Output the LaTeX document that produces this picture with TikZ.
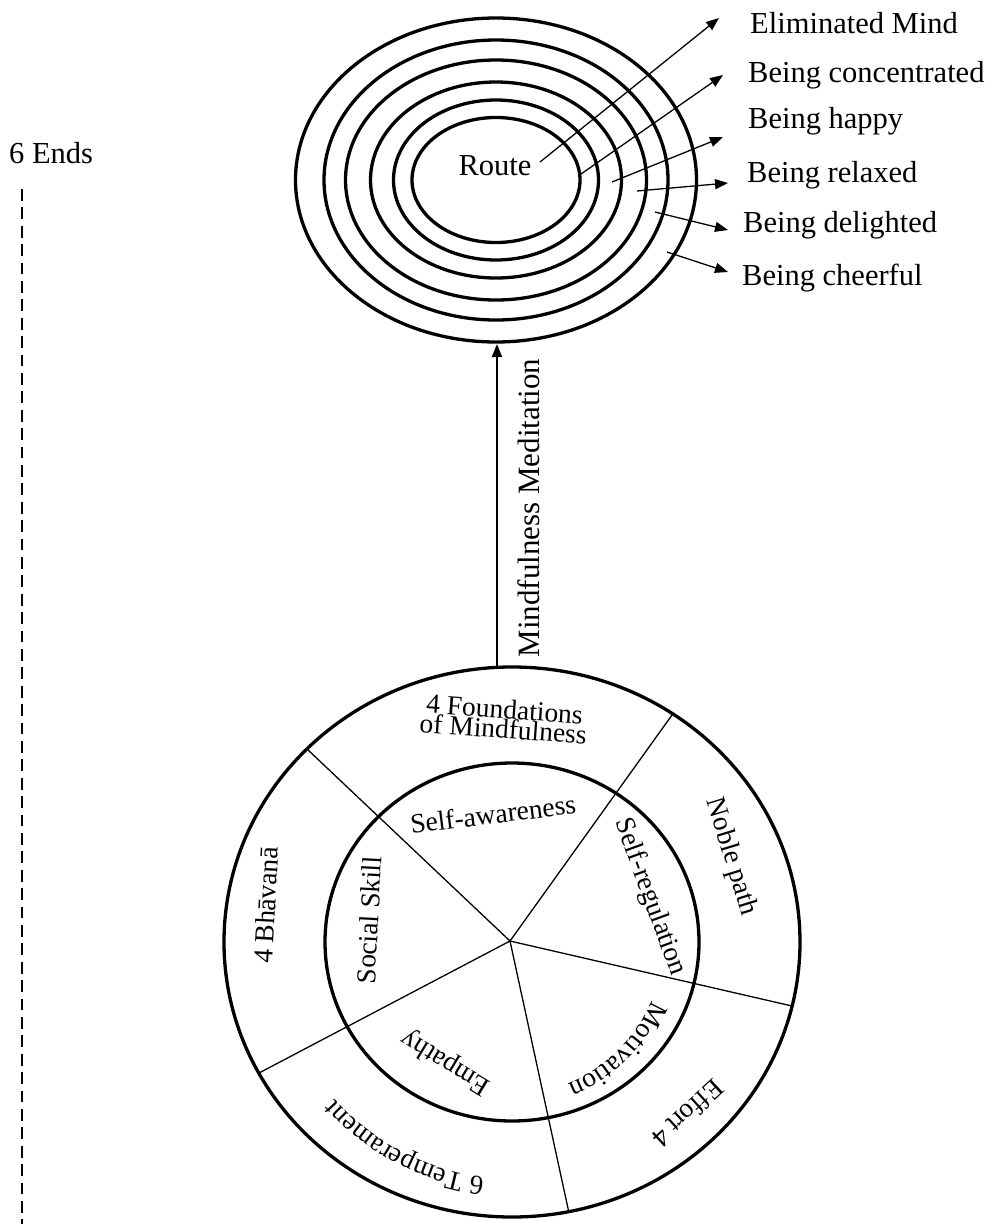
\documentclass[tikz,border=0pt]{standalone}
\usepackage{fontspec}
\setmainfont{Liberation Serif}
\usetikzlibrary{arrows.meta,decorations.text}
\begin{document}
\begin{tikzpicture}[x=1pt,y=1pt,
  ring/.style={line width=3.3pt},
  spoke/.style={line width=1.3pt},
  arr/.style={line width=1.3pt,-{Triangle[length=13pt,width=10pt]}},
  bigarr/.style={line width=2pt,-{Triangle[length=13pt,width=10pt]}},
  lbl/.style={inner sep=0pt,anchor=base west,font=\fontsize{30.5}{36}\selectfont},
  wl/.style={inner sep=0pt,font=\fontsize{27.5}{20}\selectfont},
  dashline/.style={line width=2.8pt,dash pattern=on 11.7pt off 6.7pt}
]
\useasboundingbox (0,0) rectangle (994,-1224);

% left label and dashed line
\node[lbl] (ends) at (9,-163) {6 Ends};
\coordinate (dtop) at (22,-189);
\coordinate (dbot) at (22,-1224);
\draw[dashline] (dtop) -- (dbot);

% concentric ellipses
\coordinate (ec) at (496,-180);
\foreach \rx/\ry in {84/62.5,102.5/80,125.5/98,150.5/120,172/140,200.5/162}
  \draw[ring] (ec) ellipse[x radius=\rx, y radius=\ry];
\node[inner sep=0pt,anchor=base,font=\fontsize{30.5}{36}\selectfont] (route) at (495,-175) {Route};

% state labels
\node[lbl] (l1) at (750,-33) {Eliminated Mind};
\node[lbl] (l2) at (748,-82) {Being concentrated};
\node[lbl] (l3) at (748,-128) {Being happy};
\node[lbl] (l4) at (747,-182) {Being relaxed};
\node[lbl] (l5) at (743,-232) {Being delighted};
\node[lbl] (l6) at (742,-285) {Being cheerful};

\coordinate (s1) at (540,-162); \coordinate (t1) at (719,-18);
\coordinate (s2) at (581,-174); \coordinate (t2) at (723,-75);
\coordinate (s3) at (612,-182); \coordinate (t3) at (723,-137);
\coordinate (s4) at (637,-191); \coordinate (t4) at (728,-183);
\coordinate (s5) at (655,-212); \coordinate (t5) at (728,-230);
\coordinate (s6) at (667,-252); \coordinate (t6) at (728,-272);
\draw[arr] (s1) -- (t1);
\draw[arr] (s2) -- (t2);
\draw[arr] (s3) -- (t3);
\draw[arr] (s4) -- (t4);
\draw[arr] (s5) -- (t5);
\draw[arr] (s6) -- (t6);

% vertical arrow
\coordinate (mmB) at (497,-668);
\coordinate (mmT) at (497,-344);
\draw[bigarr] (mmB) -- (mmT);
\node[rotate=90,inner sep=0pt,font=\fontsize{31}{31}\selectfont] (mm) at (529,-508) {Mindfulness Meditation};

% wheel
\coordinate (wc) at (512,-942);
\coordinate (hub) at (510,-941);
\coordinate (p1) at (307,-749);
\coordinate (p2) at (672,-715);
\coordinate (p3) at (792,-1006);
\coordinate (p4) at (569,-1213);
\coordinate (p5) at (259,-1073);
\foreach \p in {p1,p2,p3,p4,p5} \draw[spoke] (hub) -- (\p);
\draw[ring] (wc) ellipse[x radius=288, y radius=275];
\draw[ring] (wc) ellipse[x radius=187, y radius=179];

\node[wl,align=center,rotate=-4] (fom) at (504,-719) {4 Foundations\\of Mindfulness};
\node[wl,rotate=7] (sa) at (493,-814) {Self-awareness};
\node[wl,rotate=87] (ss) at (369,-920) {Social Skill};
\node[wl,rotate=87] (bh) at (266,-905) {4 Bhāvanā};
\node[wl,rotate=-73] (np) at (731,-857) {Noble path};
\node[wl,rotate=-70] (sr) at (650,-897) {Self-regulation};
\node[wl,rotate=148.6] (em) at (446,-1062) {Empathy};
\node[wl,rotate=-137.4] (ef) at (688,-1114) {Effort 4};

\path[decorate,decoration={text along path,text align=center,
   text={|\fontsize{27.5}{27.5}\selectfont|Motivation}}]
   ([shift={(-10:152)}]wc) arc[start angle=-10,end angle=-81,radius=152];
\path[decorate,decoration={text along path,text align=center,
   text={|\fontsize{27.5}{27.5}\selectfont|6 Temperament}}]
   ([shift={(282.4:237)}]wc) arc[start angle=282.4,end angle=202.4,radius=237];
\end{tikzpicture}
\end{document}
